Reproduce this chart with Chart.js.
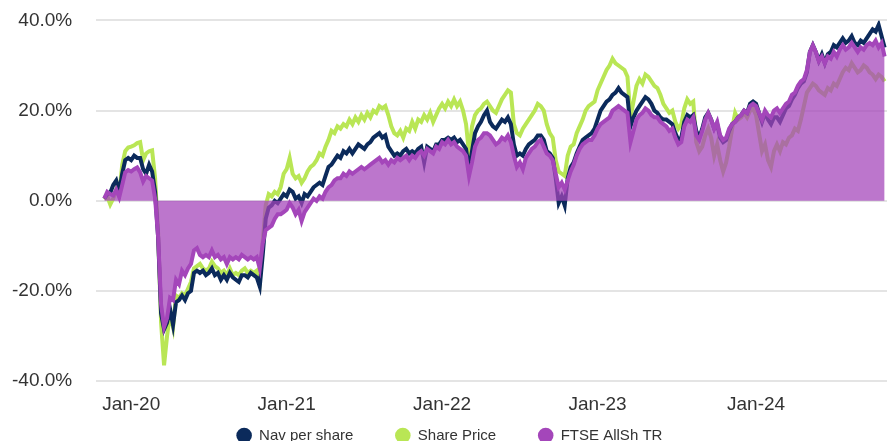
<!DOCTYPE html>
<html>
<head>
<meta charset="utf-8">
<script src="https://cdn.jsdelivr.net/npm/chart.js@4.4.1/dist/chart.umd.min.js"></script>
<style>
    html, body { margin: 0; padding: 0; background: #fff; overflow: hidden; }
    #wrap { position: absolute; left: -24px; top: -15px; width: 911px; height: 510px; }
</style>
</head>
<body>
<div id="wrap"><canvas id="perfChart"></canvas></div>
<script>
// weekly points, first week = 1 Nov 2019
const startDate = '2019-11-01';

// x axis labels and the week index where each one sits
const tickLabels = ['Jan-20', 'Jan-21', 'Jan-22', 'Jan-23', 'Jan-24'];
const tickWeeks = [9, 61, 113, 165, 218];

const seriesNames = ['Nav per share', 'Share Price', 'FTSE AllSh TR'];

// % total return
const navData = [
    0.5, 1.5, 1.8, 3.5, 4.5, 2.0, 6.0, 9.0, 9.5, 9.0,
    10.0, 9.5, 9.5, 7.0, 6.0, 8.0, 6.5, 2.0, -8.0, -25.0,
    -28.5, -27.0, -24.0, -27.5, -22.5, -22.0, -21.0, -22.0, -20.5, -20.0,
    -16.0, -15.5, -16.0, -15.5, -16.5, -16.0, -15.0, -16.5, -16.0, -17.5,
    -16.5, -17.5, -16.0, -17.0, -17.5, -18.0, -16.5, -16.5, -17.0, -16.0,
    -16.5, -17.0, -19.0, -12.0, -4.0, -1.5, -1.0, 0.0, -0.5, 0.5,
    1.5, 1.0, 2.5, 2.0, 0.5, 1.0, -0.5, 1.5, 1.0, 2.0,
    3.0, 3.5, 4.0, 3.5, 5.5, 7.5, 8.0, 9.0, 10.0, 9.5,
    11.0, 10.5, 11.5, 10.5, 11.5, 12.5, 12.0, 11.5, 12.5, 13.0,
    14.0, 14.5, 15.0, 14.0, 14.5, 12.0, 11.0, 10.0, 10.5, 10.0,
    11.0, 11.5, 10.5, 11.0, 10.5, 11.5, 12.0, 8.5, 12.0, 11.5,
    11.0, 12.5, 12.5, 13.5, 13.5, 14.0, 13.5, 14.0, 13.0, 13.5,
    12.5, 11.5, 7.0, 11.0, 15.0, 16.5, 17.5, 19.0, 20.0, 17.5,
    16.5, 16.0, 17.0, 18.0, 17.5, 18.5, 17.0, 12.5, 10.0, 10.5,
    10.0, 11.5, 12.5, 13.0, 13.5, 14.5, 14.5, 13.5, 11.0, 10.5,
    9.5, 5.0, -0.5, 1.0, -1.0, 5.0, 7.5, 8.5, 10.5, 12.0,
    13.5, 14.0, 14.5, 15.0, 16.0, 18.0, 20.0, 21.0, 22.0, 22.5,
    23.5, 24.0, 25.0, 24.0, 23.5, 23.0, 16.5, 18.5, 20.0, 21.0,
    22.0, 23.0, 22.5, 21.5, 20.0, 19.5, 18.5, 18.0, 18.0, 17.5,
    17.0, 15.0, 13.5, 14.0, 17.5, 19.0, 18.5, 19.0, 15.5, 14.0,
    16.0, 18.5, 19.5, 18.0, 16.0, 17.0, 14.0, 13.0, 13.5, 15.5,
    17.0, 17.5, 18.5, 19.0, 20.0, 19.5, 21.5, 22.0, 21.5, 19.5,
    17.5, 19.5, 18.0, 17.0, 18.5, 18.5, 17.5, 19.0, 20.5, 21.0,
    22.5, 23.5, 25.0, 26.0, 26.5, 28.5, 33.0, 34.5, 33.0, 31.0,
    32.5, 30.5, 32.5, 33.0, 34.5, 34.0, 35.0, 36.0, 35.0, 35.5,
    36.5, 35.0, 34.5, 35.5, 35.0, 36.0, 37.0, 38.0, 37.5, 39.0,
    36.5, 34.0
];

const shareData = [
    0.3, 1.0, -0.8, 0.5, 2.5, 1.5, 8.0, 11.0, 11.8, 12.0,
    12.3, 12.8, 13.0, 9.0, 10.5, 11.0, 11.2, 5.0, -7.0, -27.0,
    -36.5, -30.0, -25.0, -28.0, -21.0, -21.5, -20.5, -21.0, -19.5, -18.0,
    -15.0, -14.5, -14.0, -15.0, -15.5, -15.0, -13.5, -14.5, -15.0, -16.0,
    -15.5, -16.5, -15.0, -16.5, -16.0, -16.5, -15.5, -15.0, -16.0, -15.5,
    -16.0, -15.5, -18.0, -9.0, -1.0, 1.5, 1.0, 2.0, 1.5, 3.0,
    6.0, 7.0, 9.5, 6.0, 5.0, 5.5, 4.0, 5.0, 6.5, 7.5,
    8.0, 9.0, 10.5, 10.0, 12.0, 13.5, 15.5, 15.0, 16.5, 16.0,
    17.0, 16.5, 18.0, 17.0, 18.5, 17.5, 19.0, 18.0, 19.5, 18.5,
    20.0, 19.5, 21.0, 20.5, 21.0, 19.0, 16.5, 15.0, 14.5, 15.5,
    14.0, 16.0, 15.5, 17.5, 16.0, 18.0, 17.5, 19.0, 18.0, 19.5,
    17.5, 19.0, 20.5, 21.5, 20.5, 22.0, 21.0, 22.5, 21.0, 22.0,
    20.0, 17.0, 10.5, 16.5, 19.0, 20.0, 20.5, 21.5, 22.0, 21.0,
    20.0, 19.5, 21.0, 22.5, 23.5, 24.5, 24.0, 17.0, 15.0, 14.5,
    16.0, 17.0, 18.0, 19.0, 20.0, 21.5, 21.0, 20.0, 17.0, 15.0,
    14.0, 9.0, 6.5, 6.0, 5.5, 10.0, 12.0, 12.5, 15.0, 16.5,
    18.0, 20.0, 21.0, 21.5, 22.0, 24.5, 26.0, 27.5, 29.0, 30.0,
    31.5, 30.5, 30.0, 29.5, 29.0, 27.5, 18.5, 22.0, 25.5, 27.0,
    26.0, 28.0, 27.5, 26.5, 25.5, 25.0, 23.5, 21.5, 20.5, 19.5,
    20.0, 17.5, 16.0, 17.0, 20.5, 22.5, 21.5, 22.0, 13.0, 11.0,
    12.0, 14.5, 16.0, 14.0, 10.0, 12.5, 9.0, 6.5, 8.5, 12.0,
    16.0, 19.5, 18.0, 18.5, 19.5, 18.5, 20.0, 20.5, 19.0, 15.0,
    11.0, 12.5, 9.0, 7.5, 11.0, 12.5, 11.0, 13.0, 12.5, 14.0,
    14.5, 16.0, 15.5, 18.0, 21.0, 24.0, 25.0, 26.0, 25.5, 24.5,
    24.0, 23.5, 25.0, 24.5, 26.0, 25.5, 27.0, 28.5, 29.5, 29.0,
    30.5, 29.5, 28.5, 29.0, 30.0, 29.5, 28.5, 28.0, 27.0, 28.0,
    27.5, 26.5
];

const ftseData = [
    0.5, 2.0, 1.5, 1.2, 2.5, 0.8, 3.5, 6.3, 6.8, 6.5,
    7.0, 7.4, 6.3, 4.3, 5.5, 5.0, 4.5, 0.5, -8.0, -23.0,
    -28.0, -26.0, -21.5, -22.0, -17.5, -18.5, -15.5, -16.5, -15.0, -14.0,
    -11.0, -10.5, -12.0, -12.5, -12.0, -12.5, -11.0, -12.5, -12.0, -13.0,
    -12.5, -14.0, -12.5, -13.0, -12.5, -13.0, -12.0, -12.5, -13.0, -12.5,
    -13.0, -12.5, -15.0, -9.5, -6.5, -6.0, -5.5, -4.0, -3.0, -3.0,
    -2.5, -2.0, -0.5, -1.5, -3.0, -2.0, -4.5, -2.5, -1.5, -0.5,
    0.5, 0.0, 1.0, 0.5, 2.0, 3.0, 3.5, 4.5, 5.0, 5.0,
    6.0, 5.5, 6.5, 6.0, 6.5, 7.0, 7.5, 7.0, 7.5, 8.0,
    8.5, 9.0, 9.5, 8.5, 9.0, 8.0, 9.0, 8.5, 9.5, 9.0,
    9.5, 10.0, 9.0, 10.0, 9.5, 10.5, 11.0, 10.0, 11.5, 11.0,
    10.5, 12.0, 11.5, 13.0, 12.5, 13.5, 12.5, 13.0, 12.0, 11.5,
    11.0, 10.0, 5.5, 8.5, 12.0, 13.5, 14.0, 15.0, 15.0, 14.5,
    13.5, 12.5, 13.0, 14.0, 13.5, 14.5, 13.0, 10.0, 7.5, 8.5,
    7.0, 9.5, 10.5, 11.5, 12.0, 13.0, 13.5, 12.0, 10.5, 10.0,
    9.0, 6.0, 3.0, 4.0, 2.5, 4.5, 6.5, 8.0, 10.0, 11.5,
    12.5, 13.0, 13.5, 13.5, 14.5, 16.0, 17.0, 17.5, 18.0, 18.5,
    20.0, 20.5, 21.0, 20.5, 20.0, 19.5, 13.0, 15.5, 18.0, 19.0,
    19.5, 20.5, 20.0, 19.0, 18.5, 18.5, 17.5, 17.0, 16.5, 15.5,
    16.0, 14.0, 12.5, 13.0, 16.5, 18.0, 17.5, 18.5, 14.5, 13.5,
    15.5, 18.0, 19.5, 18.0, 16.0, 17.5, 14.5, 13.5, 14.0, 16.0,
    17.0, 17.5, 18.5, 19.0, 20.0, 19.5, 21.0, 21.5, 21.0, 19.5,
    18.0, 20.0, 19.0, 18.5, 20.0, 20.5, 19.5, 20.5, 21.5, 22.0,
    23.5, 24.0, 25.5, 26.5, 27.0, 29.0, 33.0, 34.5, 33.0, 31.0,
    32.0, 30.5, 32.0, 31.5, 33.0, 32.0, 33.5, 34.5, 33.5, 34.0,
    35.0, 34.0, 33.0, 34.0, 33.5, 34.5, 35.0, 34.5, 35.5, 34.0,
    35.0, 32.0
];

const colNav = '#0b2a5b';
const colShare = '#b9e655';
const colFtse = '#a446ba';
const colFtseFill = 'rgba(164, 70, 186, 0.74)';
const fontFamily = 'Arial, "Liberation Sans", sans-serif';

// legend padding is wide for item spacing, pull the items back up under the axis
// and recentre them on the visible page
const LEGEND_LIFT = 42;
const LEGEND_SHIFT_X = 12;
const legendLift = {
    id: 'legendLift',
    afterLayout(chart) {
        if (chart.legend) {
            chart.legend.top -= LEGEND_LIFT;
            chart.legend.bottom -= LEGEND_LIFT;
            chart.legend.left += LEGEND_SHIFT_X;
            chart.legend.right += LEGEND_SHIFT_X;
        }
    }
};

const toPoints = arr => arr.map((v, i) => ({ x: i, y: v }));

const ctx = document.getElementById('perfChart').getContext('2d');

new Chart(ctx, {
    type: 'line',
    data: {
        datasets: [{
            label: seriesNames[0],
            data: toPoints(navData),
            borderColor: colNav,
            backgroundColor: colNav,
            borderWidth: 4,
            pointRadius: 0,
            fill: false,
            order: 1
        }, {
            label: seriesNames[1],
            data: toPoints(shareData),
            borderColor: colShare,
            backgroundColor: colShare,
            borderWidth: 4,
            pointRadius: 0,
            fill: false,
            order: 1
        }, {
            // drawn last so its fill sits over the other lines
            label: seriesNames[2],
            data: toPoints(ftseData),
            borderColor: colFtse,
            backgroundColor: colFtseFill,
            borderWidth: 4,
            pointRadius: 0,
            fill: 'origin',
            order: 0
        }]
    },
    options: {
        responsive: true,
        maintainAspectRatio: false,
        animation: false,
        layout: { padding: { top: 8, right: 0, left: 12, bottom: 0 } },
        scales: {
            x: {
                type: 'linear',
                min: -2.7,
                max: 261.8,
                afterBuildTicks: axis => {
                    axis.ticks = tickWeeks.map(w => ({ value: w }));
                },
                ticks: {
                    autoSkip: false,
                    maxRotation: 0,
                    padding: 12,
                    color: '#333',
                    font: { family: fontFamily, size: 19 },
                    callback: v => tickLabels[tickWeeks.indexOf(v)]
                },
                grid: { display: false, drawTicks: false },
                border: { display: false }
            },
            y: {
                min: -40,
                max: 40,
                ticks: {
                    stepSize: 20,
                    padding: 24,
                    color: '#333',
                    font: { family: fontFamily, size: 19 },
                    callback: v => v.toFixed(1) + '%'
                },
                grid: { color: '#e4e4e4', lineWidth: 2, drawTicks: false },
                border: { display: false }
            }
        },
        plugins: {
            legend: {
                position: 'bottom',
                labels: {
                    usePointStyle: true,
                    pointStyle: 'circle',
                    boxHeight: 11,
                    padding: 42,
                    color: '#333',
                    font: { family: fontFamily, size: 15 },
                    sort: (a, b) => a.datasetIndex - b.datasetIndex,
                    generateLabels: chart => {
                        const items = Chart.defaults.plugins.legend.labels.generateLabels(chart);
                        items.forEach(it => {
                            it.fillStyle = it.strokeStyle;
                            it.lineWidth = 0;
                        });
                        return items;
                    }
                }
            },
            tooltip: { enabled: false }
        }
    },
    plugins: [legendLift]
});
</script>
</body>
</html>
